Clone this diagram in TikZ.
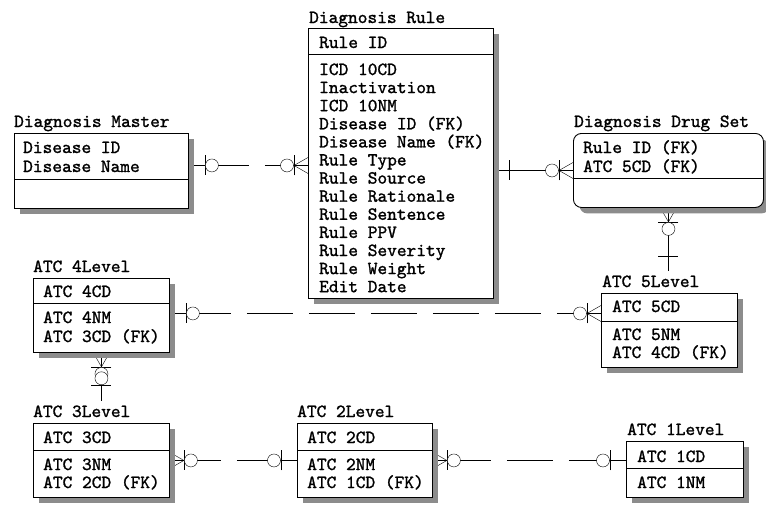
\documentclass[tikz,border=0pt]{standalone}
\usepackage{fontspec}
\usetikzlibrary{shadows,backgrounds,calc}
\newfontfamily\ermono{lmmono10-regular.otf}[FakeBold=1.3]
\newcommand{\erfont}{\ermono\fontsize{18.5}{18}\selectfont}
\tikzset{
  entity/.style={draw, fill=white, line width=0.9pt, anchor=north west, inner sep=0pt,
    drop shadow={shadow xshift=6pt, shadow yshift=-6pt, fill=black!45, opacity=1}},
  etitle/.style={anchor=base west, inner sep=0pt, font=\erfont},
  attr/.style={anchor=base west, inner sep=0pt, font=\erfont},
  nonident/.style={dash pattern=on 46pt off 16pt},
  % relationship ends
  zeroone/.pic={\draw (16,-10) -- (16,10); \draw[fill=white] (23,0) circle[radius=6.5pt];},
  zeromany/.pic={\draw (0,-8) -- (14,0) -- (0,8); \draw (14,-10) -- (14,10);
    \draw[fill=white] (21,0) circle[radius=6.5pt];},
  exactone/.pic={\draw (15,-10) -- (15,10);}
}
\begin{document}
\begin{tikzpicture}[x=1pt, y=-1pt]
  \useasboundingbox (0,0) rectangle (766,507);
  % Diagnosis Master
  \node[entity, minimum width=174, minimum height=75] (master) at (14,133) {};
  \node[etitle] (mastert) at (14,127) {Diagnosis Master};
  \draw[line width=0.9pt] (master.west |- 0,179) -- (master.east |- 0,179);
  \foreach \y/\txt in {153/Disease ID, 172/Disease Name}
    \node[attr] (master-\y) at (23,\y) {\txt};
  % Diagnosis Rule
  \node[entity, minimum width=185, minimum height=270] (rule) at (308,28) {};
  \node[etitle] (rulet) at (309,23) {Diagnosis Rule};
  \draw[line width=0.9pt] (rule.west |- 0,54) -- (rule.east |- 0,54);
  \node[attr] (rule-0) at (319,48) {Rule ID};
  \foreach \txt [count=\i] in {ICD 10CD, Inactivation, ICD 10NM, Disease ID (FK),
      Disease Name (FK), Rule Type, Rule Source, Rule Rationale, Rule Sentence,
      Rule PPV, Rule Severity, Rule Weight, Edit Date}
    \node[attr] (rule-\i) at (319,{75+18.1*(\i-1)}) {\txt};
  % Diagnosis Drug Set
  \node[entity, rounded corners=8pt, minimum width=190, minimum height=74] (dset) at (573,133) {};
  \node[etitle] (dsett) at (574,127) {Diagnosis Drug Set};
  \draw[line width=0.9pt] (dset.west |- 0,178) -- (dset.east |- 0,178);
  \foreach \y/\txt in {153/Rule ID (FK), 172/ATC 5CD (FK)}
    \node[attr] (dset-\y) at (583,\y) {\txt};
  % ATC 5Level
  \node[entity, minimum width=136, minimum height=74] (atc5) at (601,293) {};
  \node[etitle] (atc5t) at (602,287) {ATC 5Level};
  \draw[line width=0.9pt] (atc5.west |- 0,321) -- (atc5.east |- 0,321);
  \foreach \y/\txt in {312/ATC 5CD, 340/ATC 5NM, 358/ATC 4CD (FK)}
    \node[attr] (atc5-\y) at (612,\y) {\txt};
  % ATC 4Level
  \node[entity, minimum width=136, minimum height=74] (atc4) at (33,278) {};
  \node[etitle] (atc4t) at (33,272) {ATC 4Level};
  \draw[line width=0.9pt] (atc4.west |- 0,303) -- (atc4.east |- 0,303);
  \foreach \y/\txt in {297/ATC 4CD, 323/ATC 4NM, 342/ATC 3CD (FK)}
    \node[attr] (atc4-\y) at (43,\y) {\txt};
  % ATC 3Level
  \node[entity, minimum width=136, minimum height=74] (atc3) at (33,423) {};
  \node[etitle] (atc3t) at (33,417) {ATC 3Level};
  \draw[line width=0.9pt] (atc3.west |- 0,450) -- (atc3.east |- 0,450);
  \foreach \y/\txt in {443/ATC 3CD, 470/ATC 3NM, 488/ATC 2CD (FK)}
    \node[attr] (atc3-\y) at (43,\y) {\txt};
  % ATC 2Level
  \node[entity, minimum width=135, minimum height=74] (atc2) at (297,423) {};
  \node[etitle] (atc2t) at (297,417) {ATC 2Level};
  \draw[line width=0.9pt] (atc2.west |- 0,450) -- (atc2.east |- 0,450);
  \foreach \y/\txt in {443/ATC 2CD, 470/ATC 2NM, 488/ATC 1CD (FK)}
    \node[attr] (atc2-\y) at (307,\y) {\txt};
  % ATC 1Level
  \node[entity, minimum width=117, minimum height=56] (atc1) at (626,441) {};
  \node[etitle] (atc1t) at (627,435) {ATC 1Level};
  \draw[line width=0.9pt] (atc1.west |- 0,468) -- (atc1.east |- 0,468);
  \foreach \y/\txt in {462/ATC 1CD, 488/ATC 1NM}
    \node[attr] (atc1-\y) at (637,\y) {\txt};

  % Relationships behind the boxes
  \begin{scope}[on background layer, line width=0.8pt]
    % Diagnosis Master -- Diagnosis Rule
    \draw[nonident, dash phase=48pt] ([yshift=5.5pt]master.east) coordinate (mr) -- (mr -| rule.west) coordinate (rm);
    \draw (mr) -- ++(28,0) (rm) -- ++(-28,0);
    \pic at (mr) {zeroone};
    \pic[rotate=180] at (rm) {zeromany};
    % Diagnosis Rule -- Diagnosis Drug Set
    \draw (rule.east |- dset.west) coordinate (rd) -- (dset.west) coordinate (dr);
    \pic at (rd) {exactone};
    \pic[rotate=180] at (dr) {zeromany};
    % ATC 5Level -- Diagnosis Drug Set
    \draw (dset.south) coordinate (ds) -- ([yshift=4pt]ds |- atc5t.north) coordinate (sd);
    \pic[rotate=-90] at (ds) {zeromany};
    \pic[rotate=90] at (sd) {exactone};
    % ATC 4Level -- ATC 5Level
    \draw[nonident, dash phase=47pt] ([yshift=2pt]atc4.east) coordinate (fa) -- (fa -| atc5.west) coordinate (af);
    \draw (fa) -- ++(28,0) (af) -- ++(-28,0);
    \pic at (fa) {zeroone};
    \pic[rotate=180] at (af) {zeromany};
    % ATC 3Level -- ATC 4Level
    \draw (atc4.south) coordinate (fb) -- ([yshift=4pt]fb |- atc3t.north) coordinate (bf);
    \pic[rotate=-90] at (fb) {zeromany};
    \pic[rotate=90] at (bf) {zeroone};
    % ATC 2Level -- ATC 3Level
    \draw[nonident, dash phase=57pt] (atc3.east) coordinate (tb) -- (atc2.west) coordinate (bt);
    \draw (tb) -- ++(28,0) (bt) -- ++(-28,0);
    \pic at (tb) {zeromany};
    \pic[rotate=180] at (bt) {zeroone};
    % ATC 1Level -- ATC 2Level
    \draw[nonident, dash phase=50pt] (atc2.east) coordinate (bo) -- (bo -| atc1.west) coordinate (ob);
    \draw (bo) -- ++(28,0) (ob) -- ++(-28,0);
    \pic at (bo) {zeromany};
    \pic[rotate=180] at (ob) {zeroone};
  \end{scope}
\end{tikzpicture}
\end{document}
